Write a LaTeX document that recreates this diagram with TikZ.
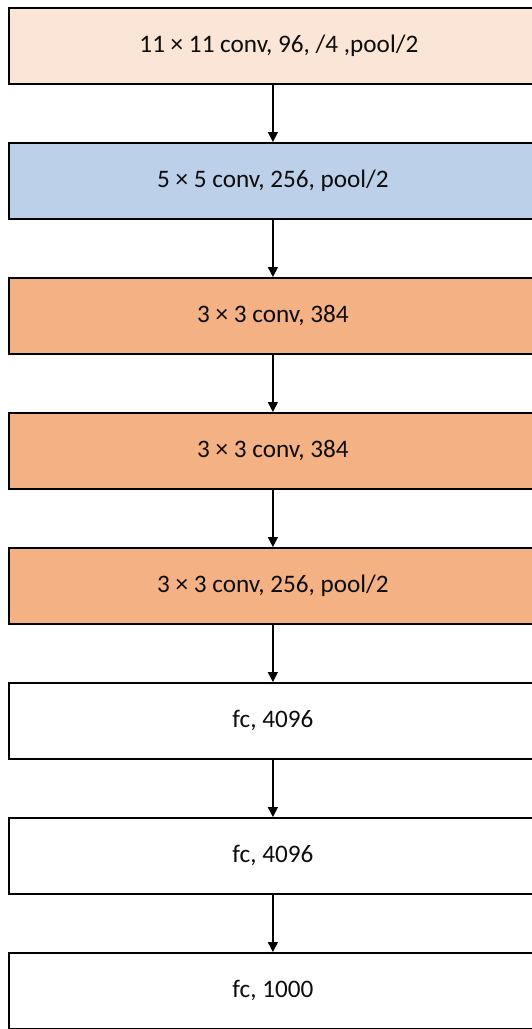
\documentclass[tikz,border=0pt]{standalone}
\usepackage{fontspec}
\setmainfont{Carlito}
\usetikzlibrary{arrows.meta}
\definecolor{peach}{HTML}{FBE5D6}
\definecolor{paleblue}{RGB}{189,208,233}
\definecolor{apricot}{HTML}{F4B183}
\definecolor{ink}{HTML}{0D0D0D}
\begin{document}
\begin{tikzpicture}[x=1pt,y=-1pt,
  layer/.style={draw=black, line width=1.8pt, minimum width=528pt, minimum height=76pt,
    inner sep=0pt, text=ink, font=\fontsize{25.2}{30}\selectfont, anchor=north west},
  flow/.style={line width=1.5pt, -{Triangle[length=10pt,width=10pt]}}]
\useasboundingbox (0,0) rectangle (532,1029);
\node[layer, fill=peach]    (c1) at (8,7)   {\hspace*{12pt}11 × 11 conv, 96, /4 ,pool/2};
\node[layer, fill=paleblue] (c2) at (8,142) {5 × 5 conv, 256, pool/2};
\node[layer, fill=apricot]  (c3) at (8,277) {3 × 3 conv, 384};
\node[layer, fill=apricot]  (c4) at (8,412) {3 × 3 conv, 384};
\node[layer, fill=apricot]  (c5) at (8,547) {3 × 3 conv, 256, pool/2};
\node[layer, fill=white]    (f1) at (8,682) {fc, 4096};
\node[layer, fill=white]    (f2) at (8,817) {fc, 4096};
\node[layer, fill=white]    (f3) at (8,952) {fc, 1000};
\foreach \a/\b in {c1/c2,c2/c3,c3/c4,c4/c5,c5/f1,f1/f2,f2/f3}
  \draw[flow] (\a.south) -- (\b.north);
\end{tikzpicture}
\end{document}
